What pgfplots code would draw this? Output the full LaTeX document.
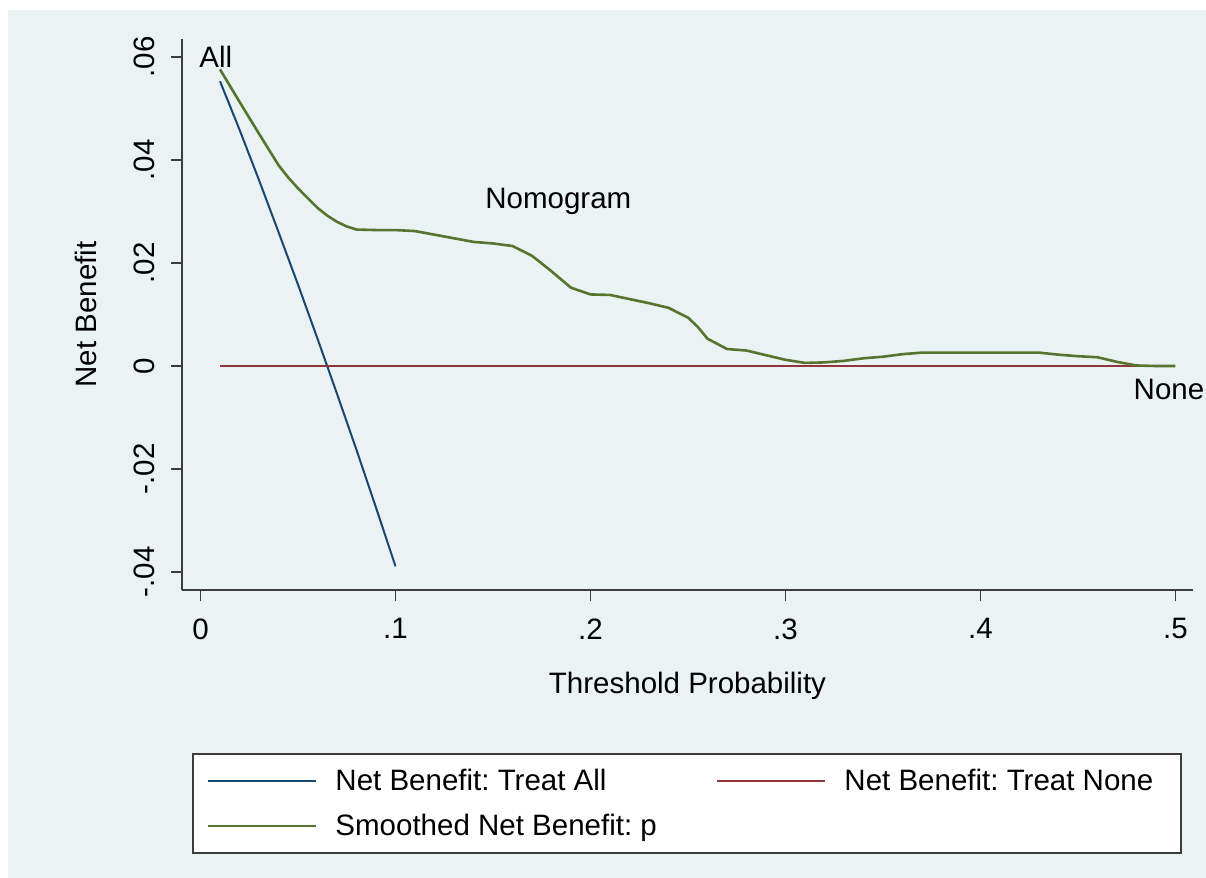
\documentclass[border=0pt]{standalone}
\usepackage{pgfplots}
\pgfplotsset{compat=1.18}
\usepackage{fontspec}
\setmainfont{Liberation Sans}
\definecolor{bgc}{RGB}{234,242,243}
\definecolor{stnavy}{RGB}{26,71,111}
\definecolor{stmaroon}{RGB}{144,53,59}
\definecolor{stgreen}{RGB}{85,117,47}
\definecolor{axc}{RGB}{60,60,60}
\begin{document}
\frenchspacing
\begin{tikzpicture}[font=\fontsize{14.75pt}{17pt}\selectfont\frenchspacing]
\fill[white] (0,0) rectangle (603pt,-439pt);
\fill[bgc] (4pt,-5pt) rectangle (603pt,-439pt);
\begin{axis}[
  at={(91pt,-295pt)}, anchor=south west,
  scale only axis, width=505.5pt, height=275.5pt,
  xmin=-0.0095, xmax=0.509, ymin=-0.0435, ymax=0.0635,
  axis x line=bottom, axis y line=left,
  axis line style={-, draw=axc, line width=0.85pt},
  tick align=outside, major tick length=5.5pt,
  tick style={draw=axc, line width=0.85pt},
  minor tick num=0,
  xtick={0,0.1,0.2,0.3,0.4,0.5}, xticklabels={0,.1,.2,.3,.4,.5},
  ytick={-0.04,-0.02,0,0.02,0.04,0.06}, yticklabels={-.04,-.02,0,.02,.04,.06},
  xticklabel style={anchor=north, inner sep=0pt, yshift=-8.5pt},
  yticklabel style={rotate=90, anchor=south, inner sep=0pt, yshift=8pt},
  scaled ticks=false,
  xlabel={Threshold Probability}, ylabel={Net Benefit},
  xlabel style={at={(axis description cs:0.5,-0.174)}, anchor=center},
  ylabel style={at={(axis description cs:-0.095,0.5)}, anchor=center, rotate=0},
  clip=false,
  legend columns=2,
  legend cell align=left,
  legend image code/.code={\draw[#1] (0pt,0pt) -- (54pt,0pt);},
  legend style={at={(axis description cs:0.0099,-0.2958)}, anchor=north west,
    draw=axc, line width=0.85pt, fill=white, inner xsep=7pt, inner ysep=2.25pt,
    row sep=0pt, font=\fontsize{14.75pt}{17pt}\selectfont\frenchspacing,
    nodes={inner sep=0pt, minimum height=22.5pt},
    /tikz/every odd column/.append style={column sep=9pt},
    /tikz/every even column/.append style={column sep=29.5pt}},
]
\addplot[stnavy, line width=1pt] coordinates {
(0.01,0.0553) (0.02,0.0459) (0.03,0.0361) (0.04,0.0260) (0.05,0.0158)
(0.06,0.0053) (0.07,-0.0054) (0.08,-0.0163) (0.09,-0.0275) (0.10,-0.0389)};
\addlegendentry{Net Benefit: Treat All}
\addplot[stmaroon, line width=1.3pt] coordinates {(0.01,0) (0.5,0)};
\addlegendentry{Net Benefit: Treat None\rule{7pt}{0pt}}
\addplot[stgreen, line width=1.3pt] coordinates {
(0.010,0.0576) (0.020,0.0513) (0.030,0.0451) (0.040,0.0390) (0.045,0.0366) (0.050,0.0345)
(0.060,0.0307) (0.065,0.0292) (0.070,0.0280) (0.075,0.0271) (0.080,0.0265) (0.090,0.0264) (0.100,0.0264)
(0.110,0.0262) (0.120,0.0255) (0.130,0.0248) (0.140,0.0241) (0.150,0.0238)
(0.160,0.0233) (0.170,0.0214) (0.180,0.0184) (0.190,0.0152) (0.200,0.0139)
(0.210,0.0138) (0.220,0.0130) (0.230,0.0122) (0.240,0.0113) (0.250,0.0094)
(0.255,0.0076) (0.260,0.0053) (0.270,0.0033) (0.280,0.0030) (0.290,0.0021)
(0.300,0.0012) (0.310,0.0006) (0.320,0.0007) (0.330,0.0010) (0.340,0.0015)
(0.350,0.0018) (0.360,0.0023) (0.370,0.0026) (0.380,0.0026) (0.390,0.0026)
(0.400,0.0026) (0.410,0.0026) (0.420,0.0026) (0.430,0.0026) (0.440,0.0022)
(0.450,0.0019) (0.460,0.0017) (0.470,0.0008) (0.480,0.0001) (0.490,0.0000)
(0.500,0.0000)};
\addlegendentry{Smoothed Net Benefit: p}
\node[anchor=base west, inner sep=0pt] at (axis cs:-0.0008,0.0579) {All};
\node[anchor=base west, inner sep=0pt] at (axis cs:0.1459,0.0305) {Nomogram};
\node[anchor=base west, inner sep=0pt] at (axis cs:0.4784,-0.0066) {None};
\end{axis}
\pgfresetboundingbox
\path (0,0) rectangle (603pt,-439pt);
\end{tikzpicture}
\end{document}
